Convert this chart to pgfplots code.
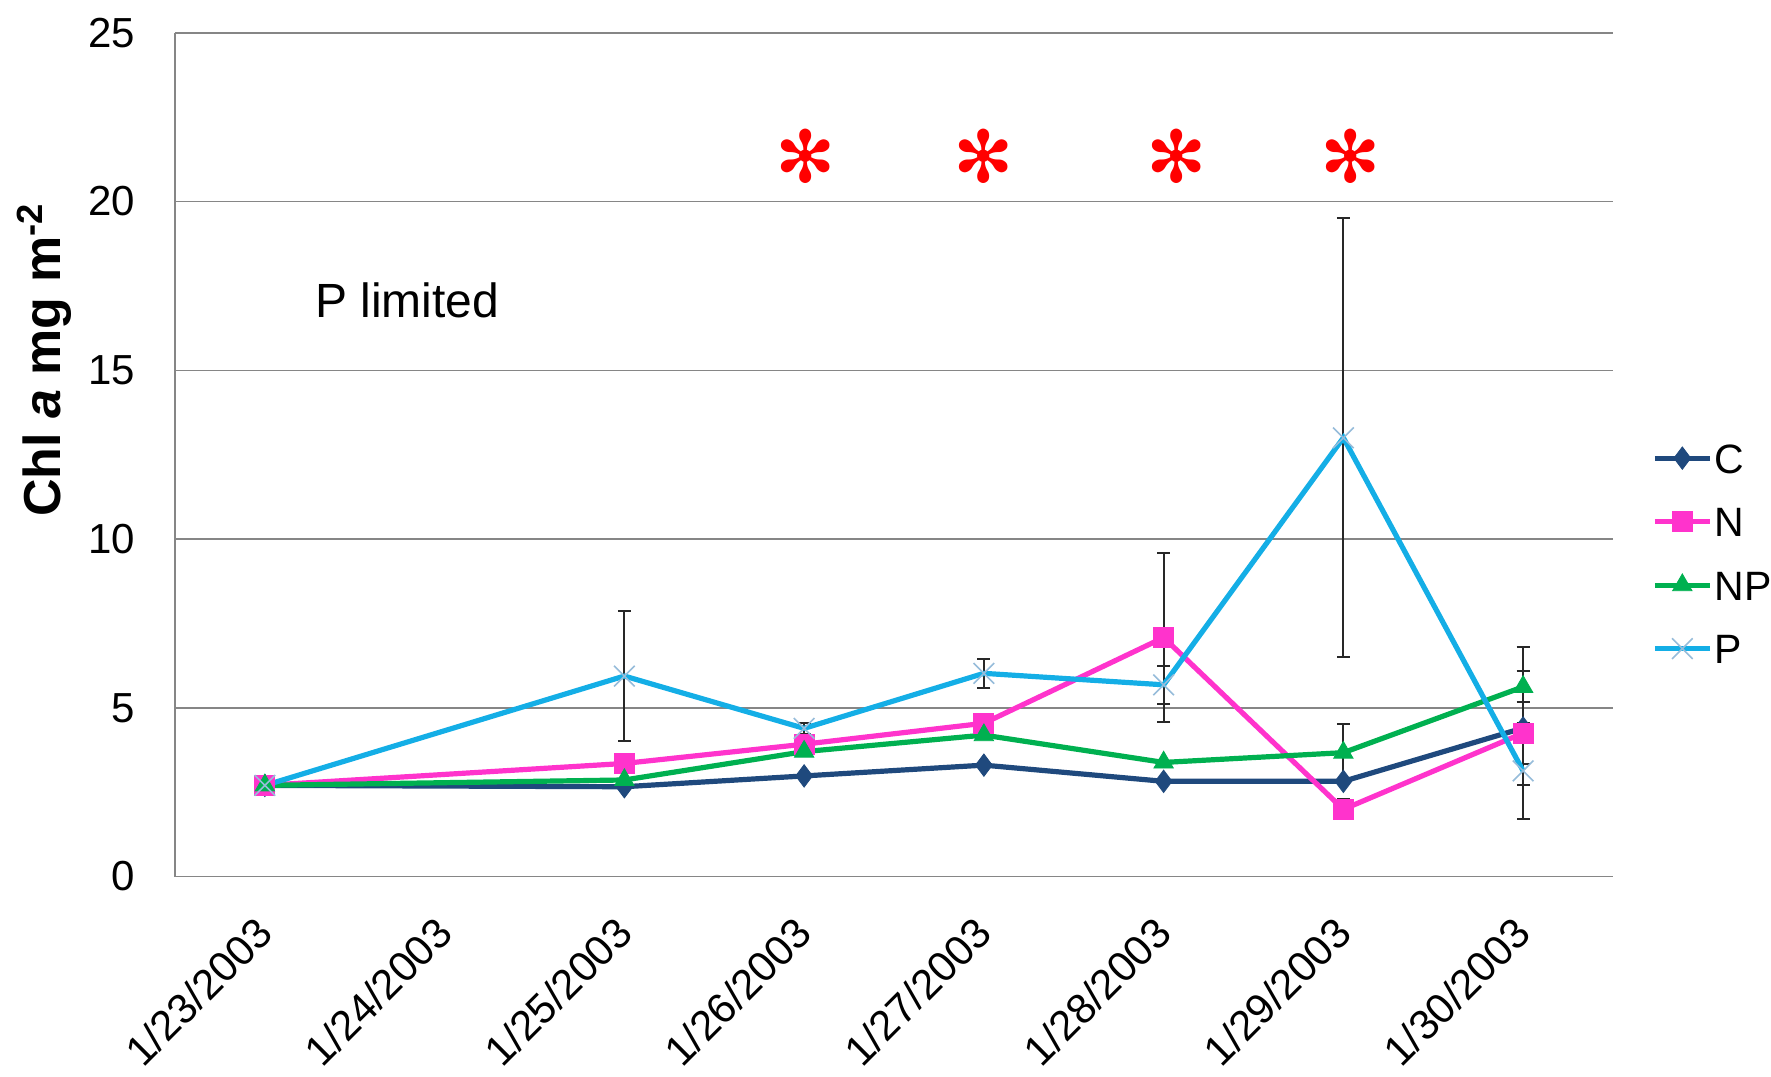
\documentclass[border=0pt]{standalone}
\usepackage{fontspec}
\setmainfont{Liberation Sans}
\newfontfamily\symfont{DejaVu Sans}
\usepackage{pgfplots}
\usepackage{pgfplotstable}
\pgfplotsset{compat=1.18}

\definecolor{cC}{RGB}{31,73,125}
\definecolor{cN}{RGB}{255,51,204}
\definecolor{cNP}{RGB}{0,176,80}
\definecolor{cP}{RGB}{20,174,230}
\definecolor{cPmark}{RGB}{150,188,218}
\definecolor{gridgray}{RGB}{134,134,134}
\definecolor{errgray}{RGB}{40,40,40}

% day index: 0 = 1/23/2003 ... 7 = 1/30/2003
\pgfplotstableread{
x y
0 2.70
2 2.66
3 2.98
4 3.30
5 2.82
6 2.82
7 4.40
}\dataC
\pgfplotstableread{
x y e
7 4.40 1.70
}\errC

\pgfplotstableread{
x y
0 2.70
2 3.35
3 3.92
4 4.54
5 7.08
6 1.99
7 4.25
}\dataN
\pgfplotstableread{
x y e
3 3.92 0.10
5 7.08 2.50
6 1.99 0.30
7 4.25 0.93
}\errN

\pgfplotstableread{
x y
0 2.70
2 2.86
3 3.70
4 4.19
5 3.38
6 3.67
7 5.62
}\dataNP
\pgfplotstableread{
x y e
6 3.67 0.86
7 5.62 1.18
}\errNP

\pgfplotstableread{
x y
0 2.70
2 5.94
3 4.39
4 6.02
5 5.68
6 13.00
7 3.13
}\dataP
\pgfplotstableread{
x y e
2 5.94 1.93
3 4.39 0.17
4 6.02 0.42
5 5.68 0.56
6 13.00 6.50
7 3.13 1.43
}\errP

\pgfplotsset{
  errbars/.style={
    forget plot, draw=none, mark=none,
    error bars/.cd, y dir=both, y explicit,
    error bar style={draw=errgray, line width=1pt, solid},
    error mark options={draw=errgray, line width=1pt, mark size=3.25pt, rotate=90},
  },
}

\begin{document}
\begin{tikzpicture}
\useasboundingbox (-87.5pt,-99.75pt) rectangle (798pt,438.25pt);
\begin{axis}[
  at={(0,0)}, anchor=south west,
  scale only axis, width=719pt, height=421.85pt,
  clip=false,
  xmin=-0.5, xmax=7.5, ymin=0, ymax=25,
  xtick={0,...,7},
  xticklabels={1/23/2003,1/24/2003,1/25/2003,1/26/2003,1/27/2003,1/28/2003,1/29/2003,1/30/2003},
  ytick={0,5,...,25},
  ymajorgrids,
  major grid style={draw=gridgray, line width=0.75pt},
  axis lines*=left,
  axis line style={-, draw=gridgray, line width=0.75pt},
  major tick length=0pt, tick style={draw=none},
  /pgf/number format/assume math mode=true,
  tick label style={font=\fontsize{21}{25}\selectfont},
  yticklabel style={anchor=east, inner sep=0pt, xshift=-19.75pt},
  xticklabel style={yshift=-24.5pt, rotate=45, anchor=east, inner sep=0pt},
  every axis y label/.style={at={(rel axis cs:0,0.612)}, xshift=-57pt, rotate=90, anchor=base, inner sep=0pt, font=\fontsize{26}{30}\selectfont},
  ylabel={\bfseries Chl \textit{a} mg m\textsuperscript{-2}},
  legend style={at={(rel axis cs:1.027,0.383)}, anchor=west, draw=none, fill=none,
    font=\fontsize{20.5}{24}\selectfont, inner sep=0pt, row sep=14.75pt,
    nodes={inner sep=1pt, text height=15pt, text depth=0pt}},
  legend cell align=left,
  legend image code/.code={\draw[mark repeat=2, mark phase=2] plot coordinates {(0pt,0pt) (13.75pt,0pt) (27.5pt,0pt)};},
]
\addplot[errbars] table[x=x, y=y, y error=e] {\errC};
\addplot[cC, line width=2.6pt, mark=diamond*, mark size=5.6pt,
  mark options={solid, fill=cC, draw=cC, line width=0.4pt}] table[x=x, y=y] {\dataC};
\addlegendentry{C}

\addplot[errbars] table[x=x, y=y, y error=e] {\errN};
\addplot[cN, line width=2.6pt, mark=square*, mark size=5pt,
  mark options={solid, fill=cN, draw=cN, line width=0.4pt}] table[x=x, y=y] {\dataN};
\addlegendentry{N}

\addplot[errbars] table[x=x, y=y, y error=e] {\errNP};
\addplot[cNP, line width=2.6pt, mark=triangle*, mark size=5.6pt,
  mark options={solid, fill=cNP, draw=cNP, line width=0.4pt}] table[x=x, y=y] {\dataNP};
\addlegendentry{NP}

\addplot[errbars] table[x=x, y=y, y error=e] {\errP};
\addplot[cP, line width=2.6pt, mark=x, mark size=7.3pt,
  mark options={solid, draw=cPmark, line width=0.8pt}] table[x=x, y=y] {\dataP};
\addlegendentry{P}

\node[anchor=base west, inner sep=0pt, font=\fontsize{24}{28}\selectfont] at (axis cs:0.277,16.57) {P limited};

% significance markers
\node[text=red, inner sep=0pt, font=\symfont\fontsize{36}{36}\selectfont] at (axis cs:3.01,21.35) {✻};
\node[text=red, inner sep=0pt, font=\symfont\fontsize{36}{36}\selectfont] at (axis cs:4.00,21.35) {✻};
\node[text=red, inner sep=0pt, font=\symfont\fontsize{36}{36}\selectfont] at (axis cs:5.07,21.35) {✻};
\node[text=red, inner sep=0pt, font=\symfont\fontsize{36}{36}\selectfont] at (axis cs:6.04,21.35) {✻};
\end{axis}
\end{tikzpicture}
\end{document}
